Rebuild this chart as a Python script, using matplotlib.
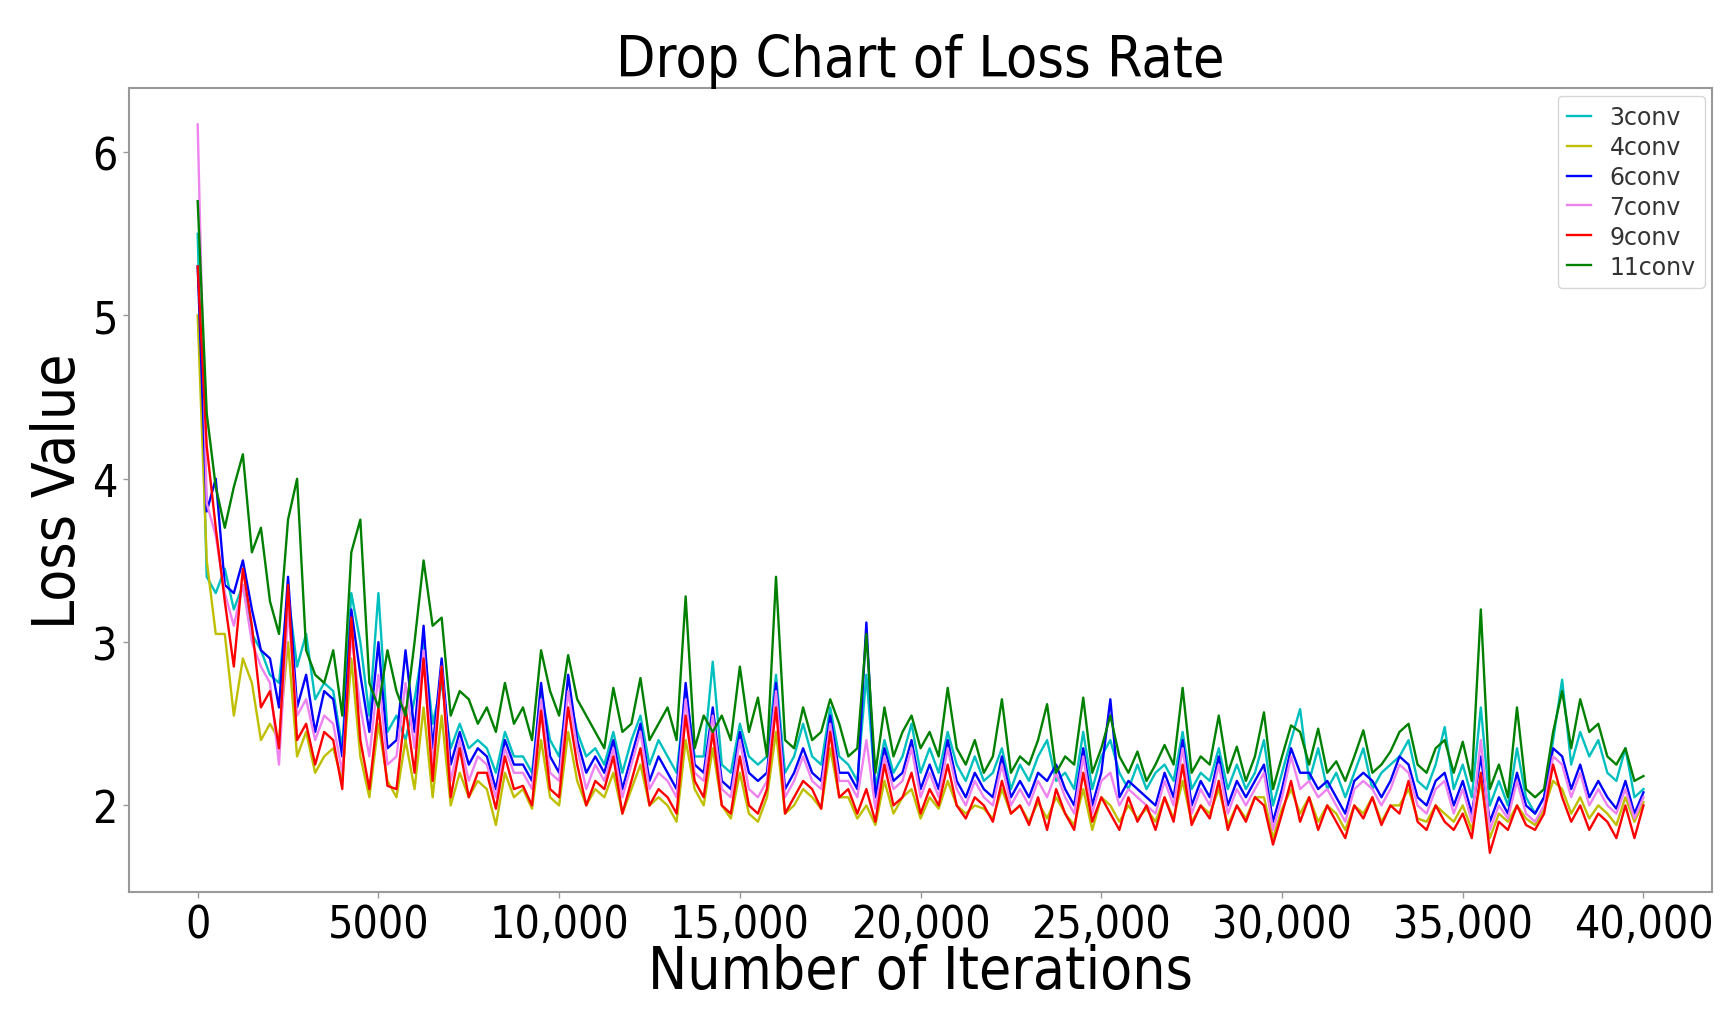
import matplotlib
matplotlib.use("Agg")
import matplotlib.pyplot as plt
import numpy as np

# iterations, sampled every 250 steps
iterations = np.arange(0, 40001, 250)

loss_3conv = [
    5.50, 3.40, 3.30, 3.45, 3.20, 3.35, 3.05, 2.95, 2.80, 2.75,
    3.30, 2.85, 3.05, 2.65, 2.75, 2.70, 2.35, 3.30, 3.00, 2.55,
    3.30, 2.45, 2.55, 2.40, 2.65, 3.00, 2.50, 2.75, 2.35, 2.50,
    2.35, 2.40, 2.35, 2.20, 2.45, 2.30, 2.30, 2.20, 2.70, 2.40,
    2.30, 2.70, 2.45, 2.30, 2.35, 2.25, 2.45, 2.20, 2.40, 2.55,
    2.25, 2.40, 2.30, 2.20, 2.70, 2.30, 2.30, 2.88, 2.25, 2.20,
    2.50, 2.30, 2.25, 2.30, 2.80, 2.20, 2.30, 2.50, 2.30, 2.25,
    2.60, 2.30, 2.25, 2.15, 2.80, 2.10, 2.40, 2.20, 2.30, 2.50,
    2.20, 2.35, 2.20, 2.45, 2.25, 2.15, 2.30, 2.15, 2.20, 2.35,
    2.10, 2.25, 2.15, 2.30, 2.40, 2.15, 2.20, 2.10, 2.45, 2.10,
    2.30, 2.40, 2.20, 2.10, 2.25, 2.10, 2.20, 2.25, 2.15, 2.45,
    2.10, 2.20, 2.15, 2.35, 2.10, 2.25, 2.10, 2.20, 2.40, 2.00,
    2.20, 2.40, 2.59, 2.15, 2.35, 2.10, 2.20, 2.05, 2.20, 2.35,
    2.10, 2.20, 2.25, 2.30, 2.40, 2.15, 2.10, 2.25, 2.48, 2.10,
    2.25, 2.05, 2.60, 2.00, 2.15, 2.00, 2.35, 2.05, 1.95, 2.05,
    2.40, 2.77, 2.25, 2.45, 2.30, 2.40, 2.20, 2.15, 2.35, 2.05,
    2.10,
]

loss_4conv = [
    5.00, 3.50, 3.05, 3.05, 2.55, 2.90, 2.75, 2.40, 2.50, 2.40,
    3.00, 2.30, 2.45, 2.20, 2.30, 2.35, 2.15, 2.90, 2.30, 2.05,
    2.50, 2.15, 2.05, 2.40, 2.10, 2.60, 2.05, 2.55, 2.00, 2.20,
    2.05, 2.15, 2.10, 1.88, 2.20, 2.05, 2.10, 1.98, 2.40, 2.05,
    2.00, 2.45, 2.15, 2.00, 2.10, 2.05, 2.20, 1.95, 2.10, 2.25,
    2.00, 2.05, 2.00, 1.90, 2.40, 2.10, 2.00, 2.35, 2.00, 1.92,
    2.20, 1.95, 1.90, 2.05, 2.45, 1.95, 2.00, 2.10, 2.05, 1.98,
    2.35, 2.05, 2.05, 1.92, 2.00, 1.88, 2.15, 1.95, 2.05, 2.10,
    1.92, 2.05, 1.98, 2.15, 2.00, 1.95, 2.00, 1.98, 1.92, 2.10,
    1.95, 2.00, 1.90, 2.02, 1.92, 2.05, 1.95, 1.88, 2.10, 1.85,
    2.05, 2.00, 1.90, 2.00, 1.92, 1.98, 1.90, 2.05, 1.92, 2.15,
    1.90, 2.00, 1.95, 2.10, 1.88, 2.00, 1.92, 2.05, 2.05, 1.80,
    1.98, 2.10, 1.95, 2.05, 1.90, 2.00, 1.95, 1.85, 2.00, 1.95,
    2.05, 1.90, 2.00, 2.00, 2.10, 1.92, 1.90, 2.00, 1.95, 1.90,
    2.00, 1.85, 2.15, 1.80, 1.95, 1.90, 2.00, 1.92, 1.88, 1.98,
    2.15, 2.10, 1.95, 2.05, 1.92, 2.00, 1.95, 1.88, 2.05, 1.90,
    2.02,
]

loss_6conv = [
    5.30, 3.80, 4.00, 3.35, 3.30, 3.50, 3.20, 2.95, 2.90, 2.60,
    3.40, 2.60, 2.80, 2.45, 2.70, 2.65, 2.30, 3.20, 2.80, 2.45,
    3.00, 2.35, 2.40, 2.95, 2.45, 3.10, 2.35, 2.90, 2.25, 2.45,
    2.25, 2.35, 2.30, 2.10, 2.40, 2.25, 2.25, 2.15, 2.75, 2.30,
    2.20, 2.80, 2.40, 2.20, 2.30, 2.20, 2.40, 2.10, 2.30, 2.50,
    2.15, 2.30, 2.20, 2.10, 2.75, 2.25, 2.20, 2.60, 2.15, 2.10,
    2.45, 2.20, 2.15, 2.20, 2.75, 2.10, 2.20, 2.35, 2.20, 2.15,
    2.55, 2.20, 2.20, 2.10, 3.12, 2.05, 2.35, 2.15, 2.20, 2.40,
    2.10, 2.25, 2.10, 2.40, 2.15, 2.05, 2.20, 2.10, 2.05, 2.30,
    2.05, 2.15, 2.05, 2.20, 2.15, 2.25, 2.10, 2.00, 2.35, 2.00,
    2.20, 2.65, 2.05, 2.15, 2.10, 2.05, 2.00, 2.20, 2.05, 2.40,
    2.00, 2.15, 2.05, 2.30, 2.00, 2.15, 2.05, 2.15, 2.25, 1.90,
    2.10, 2.35, 2.20, 2.20, 2.10, 2.15, 2.05, 1.95, 2.15, 2.20,
    2.15, 2.05, 2.15, 2.30, 2.25, 2.05, 2.00, 2.15, 2.20, 2.00,
    2.15, 1.95, 2.30, 1.90, 2.05, 1.95, 2.20, 2.00, 1.95, 2.05,
    2.35, 2.30, 2.10, 2.25, 2.05, 2.15, 2.05, 1.98, 2.15, 1.95,
    2.08,
]

loss_7conv = [
    6.17, 3.85, 3.65, 3.30, 3.10, 3.35, 3.00, 2.85, 2.75, 2.25,
    3.20, 2.55, 2.65, 2.40, 2.55, 2.50, 2.20, 3.05, 2.60, 2.30,
    2.80, 2.25, 2.30, 2.75, 2.35, 2.95, 2.25, 2.85, 2.15, 2.40,
    2.15, 2.30, 2.25, 2.05, 2.35, 2.20, 2.20, 2.10, 2.65, 2.20,
    2.15, 2.70, 2.35, 2.10, 2.25, 2.15, 2.35, 2.05, 2.25, 2.45,
    2.10, 2.20, 2.15, 2.05, 2.65, 2.20, 2.15, 2.55, 2.10, 2.05,
    2.40, 2.10, 2.05, 2.15, 2.70, 2.05, 2.15, 2.30, 2.15, 2.10,
    2.50, 2.15, 2.15, 2.05, 2.40, 1.98, 2.30, 2.10, 2.15, 2.35,
    2.05, 2.20, 2.05, 2.35, 2.10, 2.00, 2.15, 2.05, 2.00, 2.25,
    2.00, 2.10, 2.00, 2.15, 2.05, 2.20, 2.05, 1.95, 2.30, 1.95,
    2.15, 2.20, 2.00, 2.10, 2.05, 2.00, 1.95, 2.15, 2.00, 2.35,
    1.95, 2.10, 2.00, 2.25, 1.95, 2.10, 2.00, 2.10, 2.20, 1.85,
    2.05, 2.30, 2.10, 2.15, 2.05, 2.10, 2.00, 1.90, 2.10, 2.15,
    2.10, 2.00, 2.10, 2.25, 2.20, 2.00, 1.95, 2.10, 2.15, 1.95,
    2.10, 1.90, 2.40, 1.85, 2.00, 1.92, 2.15, 1.95, 1.90, 2.00,
    2.30, 2.25, 2.05, 2.20, 2.00, 2.10, 2.00, 1.95, 2.10, 1.92,
    2.05,
]

loss_9conv = [
    5.30, 4.20, 3.70, 3.25, 2.85, 3.45, 3.10, 2.60, 2.70, 2.35,
    3.35, 2.40, 2.50, 2.25, 2.45, 2.40, 2.10, 3.15, 2.40, 2.10,
    2.60, 2.12, 2.10, 2.60, 2.20, 2.90, 2.15, 2.85, 2.05, 2.35,
    2.05, 2.20, 2.20, 1.98, 2.30, 2.10, 2.12, 2.00, 2.58, 2.10,
    2.05, 2.60, 2.25, 2.00, 2.15, 2.10, 2.30, 1.95, 2.15, 2.35,
    2.00, 2.10, 2.05, 1.95, 2.55, 2.15, 2.05, 2.45, 2.00, 1.95,
    2.30, 2.00, 1.95, 2.10, 2.60, 1.95, 2.05, 2.15, 2.10, 1.98,
    2.45, 2.05, 2.10, 1.95, 2.10, 1.90, 2.25, 2.00, 2.05, 2.20,
    1.95, 2.10, 2.00, 2.25, 2.00, 1.92, 2.05, 2.00, 1.90, 2.15,
    1.95, 2.00, 1.88, 2.05, 1.85, 2.10, 1.95, 1.85, 2.20, 1.90,
    2.05, 1.95, 1.85, 2.05, 1.90, 2.00, 1.85, 2.05, 1.90, 2.25,
    1.88, 2.00, 1.92, 2.15, 1.85, 2.00, 1.90, 2.05, 2.00, 1.76,
    1.95, 2.15, 1.90, 2.05, 1.85, 2.00, 1.90, 1.80, 2.00, 1.92,
    2.05, 1.88, 2.00, 1.95, 2.15, 1.90, 1.85, 2.00, 1.90, 1.85,
    1.95, 1.80, 2.20, 1.71, 1.90, 1.85, 2.00, 1.88, 1.85, 1.95,
    2.25, 2.05, 1.90, 2.00, 1.85, 1.95, 1.90, 1.80, 2.00, 1.80,
    2.00,
]

loss_11conv = [
    5.70, 4.40, 3.95, 3.70, 3.95, 4.15, 3.55, 3.70, 3.25, 3.05,
    3.75, 4.00, 2.95, 2.80, 2.75, 2.95, 2.55, 3.55, 3.75, 2.75,
    2.60, 2.95, 2.70, 2.55, 3.00, 3.50, 3.10, 3.15, 2.55, 2.70,
    2.65, 2.50, 2.60, 2.45, 2.75, 2.50, 2.60, 2.40, 2.95, 2.70,
    2.55, 2.92, 2.65, 2.55, 2.45, 2.35, 2.72, 2.45, 2.50, 2.78,
    2.40, 2.50, 2.60, 2.40, 3.28, 2.35, 2.55, 2.45, 2.55, 2.40,
    2.85, 2.45, 2.66, 2.30, 3.40, 2.40, 2.35, 2.60, 2.40, 2.45,
    2.65, 2.50, 2.30, 2.35, 3.05, 2.20, 2.60, 2.30, 2.45, 2.55,
    2.35, 2.45, 2.30, 2.72, 2.35, 2.25, 2.40, 2.20, 2.30, 2.65,
    2.20, 2.30, 2.25, 2.40, 2.62, 2.20, 2.30, 2.25, 2.66, 2.20,
    2.35, 2.55, 2.30, 2.20, 2.33, 2.15, 2.25, 2.37, 2.25, 2.72,
    2.20, 2.30, 2.25, 2.55, 2.20, 2.36, 2.15, 2.30, 2.57, 2.10,
    2.30, 2.49, 2.45, 2.25, 2.47, 2.20, 2.27, 2.15, 2.30, 2.46,
    2.20, 2.25, 2.33, 2.45, 2.50, 2.25, 2.20, 2.35, 2.40, 2.20,
    2.39, 2.15, 3.20, 2.10, 2.25, 2.05, 2.60, 2.10, 2.05, 2.10,
    2.45, 2.70, 2.35, 2.65, 2.45, 2.50, 2.30, 2.25, 2.35, 2.15,
    2.18,
]

series = [
    ("3conv", loss_3conv, "c"),
    ("4conv", loss_4conv, "y"),
    ("6conv", loss_6conv, "b"),
    ("7conv", loss_7conv, "violet"),
    ("9conv", loss_9conv, "r"),
    ("11conv", loss_11conv, "g"),
]

x_ticks = [0, 5000, 10000, 15000, 20000, 25000, 30000, 35000, 40000]
x_tick_labels = ["0", "5000", "10,000", "15,000", "20,000", "25,000",
                 "30,000", "35,000", "40,000"]
y_ticks = [2, 3, 4, 5, 6]


def main() -> None:
    plt.rcParams["font.family"] = ["DejaVu Sans"]
    plt.rcParams["font.stretch"] = "condensed"

    fig = plt.figure(figsize=(17.34, 10.12), dpi=100)
    ax = fig.add_axes([0.0744, 0.1176, 0.913, 0.794])

    for name, values, color in series:
        ax.plot(iterations, values, color=color, linewidth=1.7, label=name)

    ax.set_xlim(-1900, 41900)
    ax.set_ylim(1.47, 6.39)
    ax.set_xticks(x_ticks)
    ax.set_xticklabels(x_tick_labels)
    ax.set_yticks(y_ticks)
    ax.tick_params(labelsize=32, length=4, width=1, color="#999999", pad=4)

    for spine in ax.spines.values():
        spine.set_color("#999999")
        spine.set_linewidth(1.5)

    ax.set_title("Drop Chart of Loss Rate", fontsize=41, pad=6)
    ax.set_xlabel("Number of Iterations", fontsize=42, labelpad=-2)
    ax.set_ylabel("Loss Value", fontsize=42, labelpad=4)

    leg = ax.legend(loc="upper right", handlelength=1.0,
                    borderaxespad=0.3, labelspacing=0.25, handletextpad=0.8,
                    framealpha=0.8, prop={"size": 17, "stretch": "normal"})
    for text in leg.get_texts():
        text.set_color("#333333")

    fig.savefig("out.png", dpi=100)


if __name__ == "__main__":
    main()
